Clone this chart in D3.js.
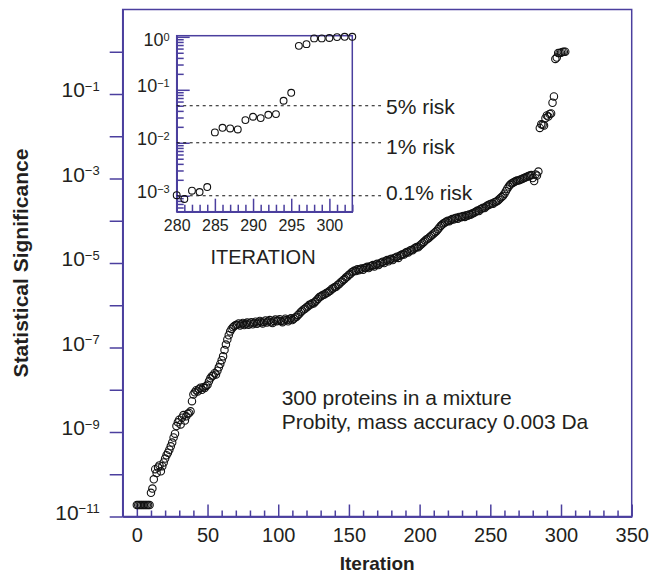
<!doctype html>
<html>
<head>
<meta charset="utf-8">
<title>statistical significance vs iteration</title>
<script src="https://d3js.org/d3.v7.min.js"></script>
<style>
    body { margin: 0; background: #fff; }
    svg { display: block; }
    .frame { fill: none; stroke: #4b3f9e; stroke-width: 1.5; }
    .axis path, .axis line { stroke: #4b3f9e; stroke-width: 1.5; }
    .axis text { fill: #231f20; }
    .pt { fill: none; stroke: #111; stroke-width: 1.1; }
</style>
</head>
<body>
<svg width="652" height="579"></svg>
<script>
    // log10 of the statistical significance, one value per iteration (0..303)
    var logSignificance = [
        -10.73, -10.73, -10.73, -10.73, -10.73, -10.73, -10.73, -10.73, -10.73, -10.73,
        -10.44, -10.34, -10.12, -9.88, -9.97, -9.84, -9.79, -9.93, -9.81, -9.72,
        -9.63, -9.55, -9.49, -9.42, -9.34, -9.25, -9.13, -9.04, -8.86, -8.77,
        -8.71, -8.82, -8.66, -8.6, -8.73, -8.63, -8.57, -8.55, -8.51, -8.27,
        -8.11, -8.06, -8.01, -8.04, -7.98, -7.95, -8.0, -7.94, -7.96, -7.91,
        -7.88, -7.8, -7.73, -7.68, -7.66, -7.61, -7.64, -7.55, -7.47, -7.39,
        -7.3, -7.21, -7.06, -6.93, -6.81, -6.71, -6.62, -6.56, -6.52, -6.49,
        -6.47, -6.46, -6.43, -6.48, -6.45, -6.42, -6.47, -6.44, -6.41, -6.46,
        -6.43, -6.4, -6.45, -6.42, -6.39, -6.44, -6.41, -6.37, -6.4, -6.43,
        -6.39, -6.36, -6.41, -6.38, -6.35, -6.4, -6.42, -6.37, -6.34, -6.38,
        -6.36, -6.33, -6.37, -6.4, -6.36, -6.32, -6.35, -6.38, -6.34, -6.31,
        -6.35, -6.32, -6.29, -6.27, -6.23, -6.2, -6.16, -6.13, -6.1, -6.08,
        -6.05, -6.03, -5.99, -5.98, -5.95, -5.96, -5.92, -5.89, -5.85, -5.81,
        -5.79, -5.77, -5.75, -5.74, -5.71, -5.7, -5.67, -5.65, -5.61, -5.6,
        -5.57, -5.56, -5.52, -5.5, -5.46, -5.44, -5.4, -5.38, -5.34, -5.32,
        -5.28, -5.26, -5.22, -5.2, -5.18, -5.19, -5.15, -5.17, -5.14, -5.13,
        -5.16, -5.12, -5.11, -5.09, -5.12, -5.08, -5.07, -5.05, -5.08, -5.04,
        -5.02, -5.05, -5.01, -4.99, -4.97, -5.0, -4.95, -4.93, -4.96, -4.92,
        -4.9, -4.93, -4.89, -4.87, -4.85, -4.88, -4.83, -4.81, -4.79, -4.8,
        -4.76, -4.74, -4.75, -4.71, -4.69, -4.7, -4.66, -4.64, -4.62, -4.63,
        -4.59, -4.56, -4.53, -4.5, -4.47, -4.44, -4.42, -4.39, -4.36, -4.33,
        -4.3, -4.27, -4.24, -4.2, -4.16, -4.12, -4.09, -4.06, -4.04, -4.02,
        -4.0, -4.01, -3.98, -3.96, -3.97, -3.94, -3.93, -3.95, -3.91, -3.92,
        -3.9, -3.89, -3.91, -3.87, -3.88, -3.85, -3.86, -3.83, -3.82, -3.8,
        -3.78, -3.76, -3.77, -3.73, -3.71, -3.69, -3.7, -3.66, -3.64, -3.62,
        -3.61, -3.59, -3.6, -3.56, -3.55, -3.53, -3.5, -3.47, -3.44, -3.41,
        -3.36, -3.3, -3.24, -3.19, -3.15, -3.12, -3.1, -3.08, -3.06, -3.05,
        -3.05, -3.03, -3.02, -3.0, -2.99, -2.97, -2.96, -2.94, -2.93, -2.92,
        -2.99, -3.06, -2.905, -2.93, -2.836, -1.804, -1.717, -1.73, -1.748, -1.572,
        -1.509, -1.534, -1.472, -1.459, -1.207, -1.057, -0.17, -0.138, -0.03, -0.03,
        -0.022, -0.005, 0, 0
    ];

    var xMajorTicks = [0, 50, 100, 150, 200, 250, 300, 350];
    var xMinorTicks = [-10, 10, 20, 30, 40, 60, 70, 80, 90, 110, 120, 130, 140, 160, 170, 180, 190,
        210, 220, 230, 240, 260, 270, 280, 290, 310, 320, 330, 340];
    var yDecades = [-11, -10, -9, -8, -7, -6, -5, -4, -3, -2, -1, 0];
    var yLabelled = [-11, -9, -7, -5, -3, -1];

    var insetFrom = 280;
    var insetXMajor = [280, 285, 290, 295, 300];
    var insetXMinor = [281, 282, 283, 284, 286, 287, 288, 289, 291, 292, 293, 294, 296, 297, 298, 299, 301, 302, 303];
    var insetDecades = [-3, -2, -1, 0];

    var riskLevels = [0.05, 0.01, 0.001];
    var riskLabels = ["5% risk", "1% risk", "0.1% risk"];
    var noteLines = ["300 proteins in a mixture", "Probity, mass accuracy 0.003 Da"];

    var font = "'Liberation Sans', Arial, Helvetica, sans-serif";
    var ink = "#231f20";

    var points = logSignificance.map(function (v, i) {
        return { iteration: i, p: Math.pow(10, v) };
    });

    var svg = d3.select("svg").attr("font-family", font);

    // main plot
    var x = d3.scaleLinear().domain([-10, 350]).range([122.7, 631.7]);
    var y = d3.scaleLog().domain([1e-11, 10]).range([516.5, 9.5]);

    function powerLabel(sel, size, supSize, baseDy, supDy) {
        sel.each(function (d) {
            var t = d3.select(this);
            var e = Math.round(Math.log10(d));
            t.text(null);
            t.append("tspan").attr("dy", baseDy).attr("font-size", size).text("10");
            t.append("tspan").attr("dy", supDy).attr("font-size", supSize)
                .text(e < 0 ? "\u2212" + (-e) : String(e));
        });
    }

    var yAxis = svg.append("g")
        .attr("class", "axis")
        .attr("transform", "translate(" + x.range()[0] + ",0)")
        .call(d3.axisLeft(y)
            .tickValues(yDecades.map(function (e) { return Math.pow(10, e); }))
            .tickSize(13).tickPadding(10).tickSizeOuter(0))
        .attr("font-family", font);
    yAxis.selectAll(".tick text")
        .attr("dy", null)
        .call(powerLabel, 21, 13, "0.12em", -6.5)
        .filter(function (d) { return yLabelled.indexOf(Math.round(Math.log10(d))) < 0; })
        .remove();

    svg.append("g")
        .attr("class", "axis")
        .attr("transform", "translate(0," + y.range()[0] + ")")
        .call(d3.axisBottom(x).tickValues(xMinorTicks).tickSize(-6).tickSizeOuter(0).tickFormat(""));

    svg.append("g")
        .attr("class", "axis")
        .attr("transform", "translate(0," + y.range()[0] + ")")
        .call(d3.axisBottom(x).tickValues(xMajorTicks).tickSize(-12).tickPadding(11).tickSizeOuter(0))
        .attr("font-family", font)
        .attr("font-size", 20);

    svg.append("rect")
        .attr("class", "frame")
        .attr("x", x.range()[0])
        .attr("y", y.range()[1])
        .attr("width", x.range()[1] - x.range()[0])
        .attr("height", y.range()[0] - y.range()[1]);

    svg.append("g").selectAll("circle")
        .data(points)
        .enter()
        .append("circle")
        .attr("class", "pt")
        .attr("cx", function (d) { return x(d.iteration); })
        .attr("cy", function (d) { return y(d.p); })
        .attr("r", 3.7);

    svg.append("text")
        .attr("transform", "translate(21," + (y.range()[0] + y.range()[1]) / 2 + ") rotate(-90)")
        .attr("text-anchor", "middle")
        .attr("dy", "0.35em")
        .attr("font-size", 21)
        .attr("font-weight", "bold")
        .attr("fill", ink)
        .text("Statistical Significance");

    svg.append("text")
        .attr("x", (x.range()[0] + x.range()[1]) / 2)
        .attr("y", 570)
        .attr("text-anchor", "middle")
        .attr("font-size", 19)
        .attr("font-weight", "bold")
        .attr("fill", ink)
        .text("Iteration");

    svg.append("g").selectAll("text")
        .data(noteLines)
        .enter()
        .append("text")
        .attr("x", 281.7)
        .attr("y", function (d, i) { return 405 + i * 24; })
        .attr("font-size", 21)
        .attr("fill", ink)
        .text(function (d) { return d; });

    // inset
    var ix = d3.scaleLinear().domain([280, 303]).range([176.7, 352.3]);
    var iy = d3.scaleLog().domain([5e-4, 1.05]).range([211.7, 35.7]);
    var inset = svg.append("g");

    inset.append("rect")
        .attr("x", ix.range()[0]).attr("y", iy.range()[1])
        .attr("width", ix.range()[1] - ix.range()[0])
        .attr("height", iy.range()[0] - iy.range()[1])
        .attr("fill", "#fff");

    var iyTicks = iy.ticks();
    var iyMajor = insetDecades.map(function (e) { return Math.pow(10, e); });
    var iyMinor = iyTicks.filter(function (t) {
        return Math.abs(Math.log10(t) - Math.round(Math.log10(t))) > 1e-6;
    });

    inset.append("g")
        .attr("class", "axis")
        .attr("transform", "translate(" + ix.range()[0] + ",0)")
        .call(d3.axisLeft(iy).tickValues(iyMinor).tickSize(-7).tickSizeOuter(0).tickFormat(""));

    var iyAxis = inset.append("g")
        .attr("class", "axis")
        .attr("transform", "translate(" + ix.range()[0] + ",0)")
        .call(d3.axisLeft(iy).tickValues(iyMajor).tickSize(-13).tickPadding(7).tickSizeOuter(0))
        .attr("font-family", font);
    iyAxis.selectAll(".tick text")
        .attr("dy", null)
        .each(function (d) {
            var e = Math.round(Math.log10(d));
            d3.select(this).call(powerLabel, 18, 11, e === 0 ? "9px" : "2px", -5);
        });

    inset.append("g")
        .attr("class", "axis")
        .attr("transform", "translate(0," + iy.range()[0] + ")")
        .call(d3.axisBottom(ix).tickValues(insetXMinor).tickSize(-7).tickSizeOuter(0).tickFormat(""));

    inset.append("g")
        .attr("class", "axis")
        .attr("transform", "translate(0," + iy.range()[0] + ")")
        .call(d3.axisBottom(ix).tickValues(insetXMajor).tickSize(-13).tickPadding(8).tickSizeOuter(0))
        .attr("font-family", font)
        .attr("font-size", 16);

    inset.append("text")
        .attr("x", 263)
        .attr("y", 264)
        .attr("text-anchor", "middle")
        .attr("font-size", 20)
        .attr("fill", ink)
        .text("ITERATION");

    inset.append("rect")
        .attr("class", "frame")
        .attr("x", ix.range()[0]).attr("y", iy.range()[1])
        .attr("width", ix.range()[1] - ix.range()[0])
        .attr("height", iy.range()[0] - iy.range()[1]);

    // risk thresholds
    var riskDy = [8.3, 11, 4.5];
    var risk = svg.append("g");
    risk.selectAll("line")
        .data(riskLevels)
        .enter()
        .append("line")
        .attr("x1", ix.range()[0])
        .attr("x2", 381)
        .attr("y1", function (d) { return iy(d); })
        .attr("y2", function (d) { return iy(d); })
        .attr("stroke", "#111")
        .attr("stroke-width", 1)
        .attr("stroke-dasharray", "3,3.5");
    risk.selectAll("text")
        .data(riskLevels)
        .enter()
        .append("text")
        .attr("x", 386)
        .attr("y", function (d, i) { return iy(d) + riskDy[i]; })
        .attr("font-size", 21)
        .attr("fill", ink)
        .text(function (d, i) { return riskLabels[i]; });

    inset.append("g").selectAll("circle")
        .data(points.filter(function (d) { return d.iteration >= insetFrom; }))
        .enter()
        .append("circle")
        .attr("class", "pt")
        .attr("cx", function (d) { return ix(d.iteration); })
        .attr("cy", function (d) { return iy(d.p); })
        .attr("r", 3.4);
</script>
</body>
</html>
